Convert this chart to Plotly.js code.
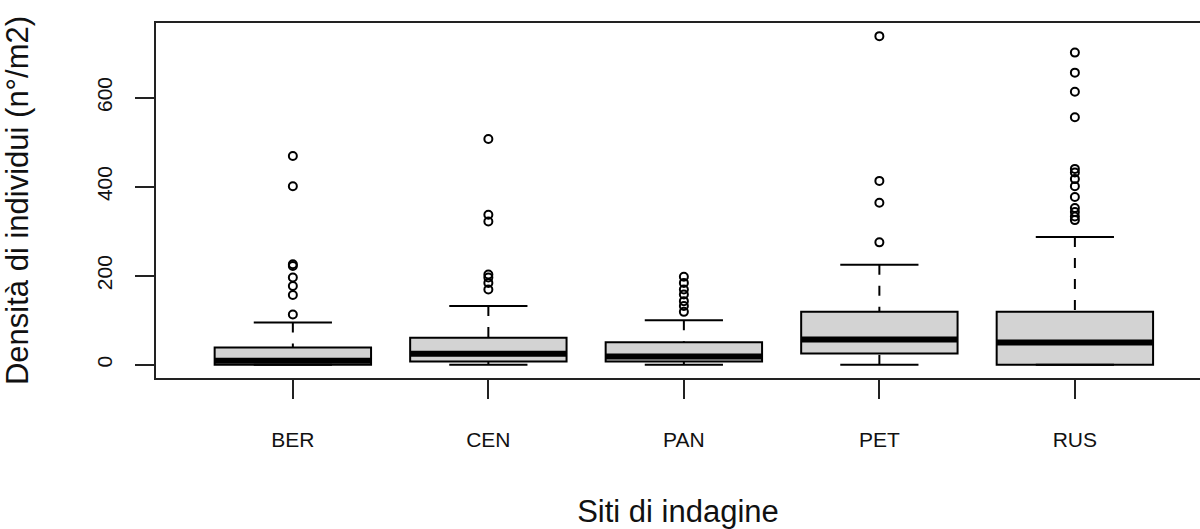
<!DOCTYPE html>
<html>
<head>
<meta charset="utf-8">
<script src="https://cdn.plot.ly/plotly-3.0.1.min.js"></script>
<style>html,body{margin:0;padding:0;background:#fff;}#chart{width:1200px;height:529px;}</style>
</head>
<body>
<div id="chart"></div>
<script>
// ---- data ----
const sites = ['BER', 'CEN', 'PAN', 'PET', 'RUS'];
const lowerWhisker = [0, 0, 0, 0, 0];
const q1 = [0, 7.5, 7.5, 25.5, 0];
const medians = [9, 25, 19, 57, 50];
const q3 = [39, 61, 51, 119, 119];
const upperWhisker = [95, 132, 100, 225, 287];
const outliersBER = [113, 157, 177, 196, 222, 226, 401, 469];
const outliersCEN = [169, 184, 196, 203, 322, 337, 507];
const outliersPAN = [119, 132, 143, 158, 169, 184, 198];
const outliersPET = [275, 364, 413, 738];
const outliersRUS = [325, 333, 343, 352, 377, 401, 417, 432, 440, 556, 613, 656, 701];
const outliers = [outliersBER, outliersCEN, outliersPAN, outliersPET, outliersRUS];
const yTicks = [0, 200, 400, 600];

// ---- styling constants ----
const boxHalf = 0.4;     // R boxwex 0.8
const capHalf = 0.2;     // R staplewex 0.5
const pos = sites.map((s, i) => i + 1);
const FONT = 'Liberation Sans, Arial, Helvetica, sans-serif';

// boxes (fill + border) — whiskers handled separately to get R's dashed style
const boxTrace = {
  type: 'box',
  x: pos,
  q1: q1,
  median: medians,
  q3: q3,
  lowerfence: q1,
  upperfence: q3,
  width: 0.8,
  whiskerwidth: 0,
  boxpoints: false,
  fillcolor: '#D3D3D3',
  line: {color: '#000', width: 2},
  hoverinfo: 'skip',
  showlegend: false
};

// dashed whiskers (drawn from whisker end to box, like R)
const wx = [], wy = [];
pos.forEach((p, i) => {
  wx.push(p, p, null, p, p, null);
  wy.push(upperWhisker[i], q3[i], null, lowerWhisker[i], q1[i], null);
});
const whiskerTrace = {
  type: 'scatter', mode: 'lines', x: wx, y: wy,
  line: {color: '#000', width: 2, dash: '10px,11px'},
  hoverinfo: 'skip', showlegend: false
};

// staples
const cx = [], cy = [];
pos.forEach((p, i) => {
  cx.push(p - capHalf, p + capHalf, null, p - capHalf, p + capHalf, null);
  cy.push(upperWhisker[i], upperWhisker[i], null, lowerWhisker[i], lowerWhisker[i], null);
});
const capTrace = {
  type: 'scatter', mode: 'lines', x: cx, y: cy,
  line: {color: '#000', width: 2},
  hoverinfo: 'skip', showlegend: false
};

// thick medians
const mx = [], my = [];
pos.forEach((p, i) => {
  mx.push(p - boxHalf, p + boxHalf, null);
  my.push(medians[i], medians[i], null);
});
const medianTrace = {
  type: 'scatter', mode: 'lines', x: mx, y: my,
  line: {color: '#000', width: 6},
  hoverinfo: 'skip', showlegend: false
};

// outliers
const ox = [], oy = [];
outliers.forEach((arr, i) => arr.forEach(v => { ox.push(pos[i]); oy.push(v); }));
const outlierTrace = {
  type: 'scatter', mode: 'markers', x: ox, y: oy,
  marker: {symbol: 'circle-open', size: 8, color: '#000', line: {width: 2, color: '#000'}},
  hoverinfo: 'skip', showlegend: false
};

const layout = {
  width: 1200, height: 529,
  margin: {l: 156, r: 0, t: 23, b: 151, pad: 0},
  paper_bgcolor: '#fff', plot_bgcolor: '#fff',
  font: {family: FONT, color: '#111'},
  showlegend: false,
  xaxis: {
    range: [0.3, 5.64],
    tickmode: 'array', tickvals: pos, ticktext: sites,
    ticks: 'outside', ticklen: 19, tickwidth: 2, tickcolor: '#222',
    tickfont: {size: 21, family: FONT, color: '#111'},
    ticklabelstandoff: 23,
    showline: true, mirror: true, linecolor: '#222', linewidth: 2,
    showgrid: false, zeroline: false,
    title: {text: 'Siti di indagine', font: {size: 31, family: FONT, color: '#111'}, standoff: 52}
  },
  yaxis: {
    range: [-29.5, 767.5],
    tickmode: 'array', tickvals: yTicks, ticktext: yTicks.map(String),
    ticks: 'outside', ticklen: 19, tickwidth: 2, tickcolor: '#222',
    tickfont: {size: 21, family: FONT, color: '#111'},
    tickangle: -90,
    ticklabelstandoff: 15,
    showline: true, mirror: false, linecolor: '#222', linewidth: 2,
    showgrid: false, zeroline: false,
    title: {text: 'Densità di individui (n°/m2)', font: {size: 31, family: FONT, color: '#111'}, standoff: 57}
  }
};

Plotly.newPlot('chart', [boxTrace, whiskerTrace, capTrace, medianTrace, outlierTrace], layout, {staticPlot: true, displayModeBar: false});
</script>
</body>
</html>
